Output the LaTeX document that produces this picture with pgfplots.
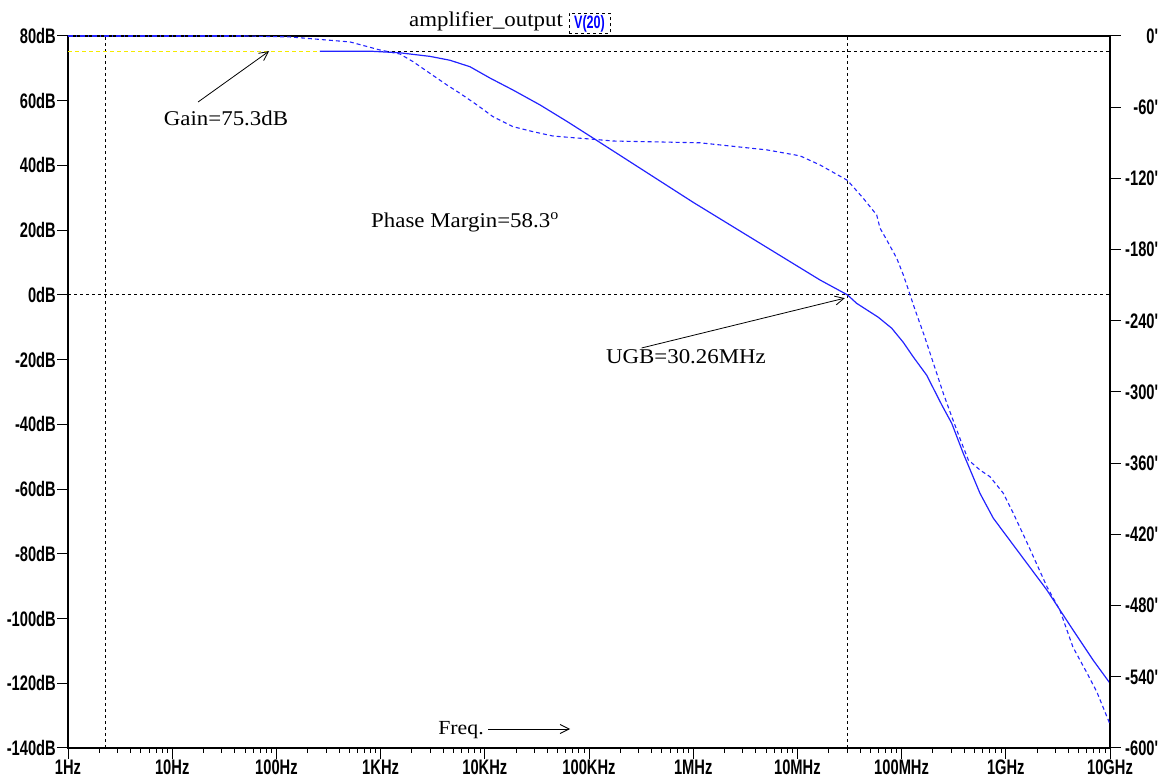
\documentclass[border=0pt]{standalone}
\usepackage{pgfplots}
\pgfplotsset{compat=1.18}
\usepackage{fontspec}
\setmainfont{Liberation Serif}[FakeStretch=1.09]
\newfontfamily\tickfont{Liberation Sans}[FakeStretch=0.7,BoldFeatures={FakeStretch=0.7}]
\usetikzlibrary{arrows.meta}
\definecolor{trace}{RGB}{35,35,255}
\definecolor{cursory}{RGB}{245,235,0}
\begin{document}
\begin{tikzpicture}[x=1pt,y=1pt]
\useasboundingbox (0,0) rectangle (1169,778);
\begin{axis}[
  at={(68pt,30pt)}, anchor=south west, scale only axis,
  width=1042pt, height=712pt,
  xmode=log, xmin=1, xmax=1e10,
  tick align=outside,
  major tick length=11pt, minor tick length=5pt,
  every tick/.style={black, line width=1pt},
  axis line style={line width=1.4pt},
  ticklabel style={font=\tickfont\bfseries\fontsize{21}{23}\selectfont},
  ymin=-140, ymax=80,
  xtick={1,10,100,1000,1e4,1e5,1e6,1e7,1e8,1e9,1e10},
  xticklabels={1Hz,10Hz,100Hz,1KHz,10KHz,100KHz,1MHz,10MHz,100MHz,1GHz,10GHz},
  minor xtick={2,3,4,5,6,7,8,9,20,30,40,50,60,70,80,90,200,300,400,500,600,700,800,900,
    2e3,3e3,4e3,5e3,6e3,7e3,8e3,9e3,2e4,3e4,4e4,5e4,6e4,7e4,8e4,9e4,
    2e5,3e5,4e5,5e5,6e5,7e5,8e5,9e5,2e6,3e6,4e6,5e6,6e6,7e6,8e6,9e6,
    2e7,3e7,4e7,5e7,6e7,7e7,8e7,9e7,2e8,3e8,4e8,5e8,6e8,7e8,8e8,9e8,
    2e9,3e9,4e9,5e9,6e9,7e9,8e9,9e9},
  xtick pos=bottom,
  ytick={-140,-120,-100,-80,-60,-40,-20,0,20,40,60,80},
  yticklabels={-140dB,-120dB,-100dB,-80dB,-60dB,-40dB,-20dB,0dB,20dB,40dB,60dB,80dB},
  ytick pos=left,
  xticklabel style={inner sep=0pt, yshift=-1pt},
  yticklabel style={inner sep=1pt},
]
% cursor lines
\addplot[black, line width=0.9pt, dash pattern=on 3pt off 3pt] coordinates {(2.27,-140)(2.27,80)};
\addplot[black, line width=0.9pt, dash pattern=on 3pt off 3pt] coordinates {(3.026e7,-140)(3.026e7,80)};
\addplot[black, line width=0.9pt, dash pattern=on 3pt off 3pt] coordinates {(1,0)(1e10,0)};
\addplot[black, line width=0.9pt, dash pattern=on 3pt off 3pt] coordinates {(262,75.3)(1e10,75.3)};
\addplot[cursory, line width=1.3pt, dash pattern=on 4pt off 3pt] coordinates {(1,75.3)(262,75.3)};
% magnitude
\addplot[trace, line width=1.2pt] coordinates {
(262,75.3)(800,75.3)(1535,74.8)(2980,73.7)(4635,72.5)(7210,70.5)(11220,67.0)
(18660,63.3)(33880,58.7)(61500,53.6)(1.09e5,48.5)(1e6,28.6)(1.65e7,4.6)(3.026e7,0)
(3.7e7,-2.6)(5.97e7,-6.9)(8.04e7,-10.3)(1.04e8,-14.7)(1.29e8,-19.1)(1.74e8,-24.8)
(2.43e8,-34)(3.03e8,-39.7)(3.91e8,-49)(4.71e8,-55.2)(5.65e8,-61.3)(7.59e8,-69)
(1.28e9,-78.8)(2.48e9,-91.2)(4.41e9,-103.5)(6.87e9,-112.8)(1e10,-120)};
% annotation arrows
\draw[black, line width=0.8pt, -{Straight Barb[length=9pt,width=9pt]}] (axis cs:17.7,59.6) -- (axis cs:85,75.3);
\draw[black, line width=0.8pt, -{Straight Barb[length=9pt,width=9pt]}] (axis cs:3.2e5,-16.4) -- (axis cs:2.85e7,-1.0);
\end{axis}
\begin{axis}[
  at={(68pt,30pt)}, anchor=south west, scale only axis,
  width=1042pt, height=712pt,
  xmode=log, xmin=1, xmax=1e10,
  tick align=outside,
  major tick length=11pt,
  every tick/.style={black, line width=1pt},
  axis line style={line width=1.4pt},
  ticklabel style={font=\tickfont\bfseries\fontsize{21}{23}\selectfont},
  ymin=-600, ymax=0,
  axis x line=none,
  axis y line*=right,
  ytick={-600,-540,-480,-420,-360,-300,-240,-180,-120,-60,0},
  yticklabels={-600',-540',-480',-420',-360',-300',-240',-180',-120',-60',0'},
  yticklabel style={anchor=west, text width=36pt, align=right, inner sep=1pt},
]
\addplot[trace, line width=1.1pt, dash pattern=on 5pt off 3pt on 1pt off 3pt] coordinates {(1,0)(50,0)};
\addplot[trace, line width=1.1pt, dash pattern=on 4pt off 3pt] coordinates {
(50,0)(135,-0.8)(508,-5)(986,-11.8)(1535,-15.2)(2046,-21.6)(2980,-31.5)(4335,-41.3)
(5780,-48.3)(8415,-58.1)(11990,-68)(18660,-76.4)(29000,-80.6)(45100,-84.3)
(70200,-85.7)(1.09e5,-87)(1.7e5,-88.5)(1.16e6,-90)(5.11e6,-96)(1.06e7,-101)
(1.65e7,-108.7)(3.026e7,-121.7)(4.29e7,-136.8)(5.77e7,-150.8)(6.2e7,-161.8)
(7.2e7,-171.9)(8.98e7,-187.3)(1.04e8,-201.4)(1.2e8,-217.5)(1.35e8,-231)
(1.62e8,-250.5)(2.02e8,-275.8)(2.51e8,-301)(3.03e8,-320.8)(3.78e8,-343.2)
(4.37e8,-357.3)(5.65e8,-365.7)(7.05e8,-371.4)(9.46e8,-385.3)(1.18e9,-402.2)
(1.6e9,-427)(2.48e9,-464)(3.31e9,-484)(4.41e9,-515)(6.03e9,-537)(7.5e9,-553)(1e10,-580)};
\end{axis}
% title
\node[font=\fontsize{21}{24}\selectfont] at (486,757) {amplifier\_output};
\node[draw=black, dashed, line width=0.8pt, minimum width=41pt, minimum height=20pt, inner sep=1pt,
  text=blue, font=\tickfont\bfseries\fontsize{18}{20}\selectfont] at (589.5,754.5) {V(20)};
% text annotations
\node[font=\fontsize{21}{24}\selectfont] at (226,660) {Gain=75.3dB};
\node[font=\fontsize{21}{24}\selectfont] at (465,556) {Phase Margin=58.3\textsuperscript{o}};
\node[font=\fontsize{21}{24}\selectfont] at (686,421) {UGB=30.26MHz};
\node[font=\fontsize{20}{24}\selectfont] at (461,48) {Freq.};
\draw[black, line width=0.8pt, -{Straight Barb[length=9pt,width=9pt]}] (488,49) -- (570,49);
\end{tikzpicture}
\end{document}
